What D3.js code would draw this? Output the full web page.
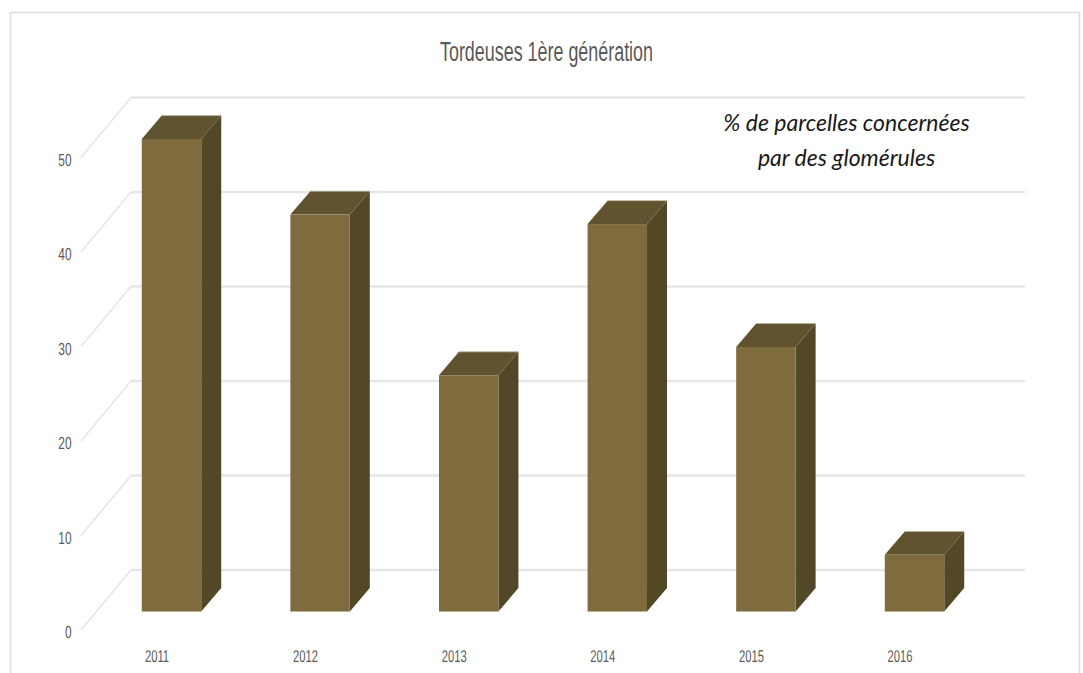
<!DOCTYPE html>
<html>
<head>
<meta charset="utf-8">
<script src="https://d3js.org/d3.v7.min.js"></script>
<style>
  html, body { margin: 0; padding: 0; background: #fff; }
  svg { display: block; }
  .tick text { font-family: "Liberation Sans", sans-serif; fill: #5a5a5a; text-rendering: geometricPrecision; }
</style>
</head>
<body>
<svg id="svg"></svg>
<script>
const years = ['2011', '2012', '2013', '2014', '2015', '2016'];
const values = [50, 42, 25, 41, 28, 6];
const yTicks = [0, 10, 20, 30, 40, 50];
const titleText = 'Tordeuses 1ère génération';
const noteLines = ['% de parcelles concernées', 'par des glomérules'];

const width = 1083;
const height = 673;

// depth of the fake 3d, wall sits up and to the right of the floor front edge
const depthX = 20;
const depthY = 23.4;
const wallX = 50;
const wallY = 60;

const selector = d3.select('#svg')
  .attr('width', width)
  .attr('height', height);

const xScale = d3.scaleBand()
  .domain(years)
  .range([97.2, 988.8])
  .paddingInner(0.6)
  .paddingOuter(0.3);

// y of a value on the front plane of the bars
const yScale = d3.scaleLinear()
  .domain([0, 50])
  .range([611.5, 139]);

// frame, open at the bottom
selector.append('path')
  .attr('d', `M10.5,${height}V12.5H1079.5V${height}`)
  .attr('fill', 'none')
  .attr('stroke', '#dcdcdc')
  .attr('stroke-width', 1.5);

// grid: back wall line + diagonal on the side wall
const axisY = (d) => yScale(d) + 18.5;

const grid = selector.append('g');

grid.selectAll('path')
  .data(yTicks)
  .enter()
  .append('path')
  .attr('d', (d) => `M81,${axisY(d)}L${81 + wallX},${axisY(d) - wallY}`)
  .attr('fill', 'none')
  .attr('stroke', '#e6e6e6')
  .attr('stroke-width', 1.5);

grid.selectAll('line')
  .data(yTicks)
  .enter()
  .append('line')
  .attr('x1', 81 + wallX)
  .attr('x2', 1025)
  .attr('y1', (d) => axisY(d) - wallY)
  .attr('y2', (d) => axisY(d) - wallY)
  .attr('stroke', '#e6e6e6')
  .attr('stroke-width', 2.5);

// bars
const bar = selector.selectAll('g.bar')
  .data(years.map((y, i) => ({ year: y, value: values[i] })))
  .enter()
  .append('g')
  .attr('class', 'bar');

bar.append('path')
  .attr('fill', '#524727')
  .attr('d', (d) => {
    const r = xScale(d.year) + xScale.bandwidth();
    return `M${r},${yScale(d.value)}l${depthX},${-depthY}V${yScale(0) - depthY}l${-depthX},${depthY}Z`;
  });

bar.append('path')
  .attr('fill', '#61532f')
  .attr('d', (d) => {
    const l = xScale(d.year);
    const w = xScale.bandwidth();
    return `M${l},${yScale(d.value)}l${depthX},${-depthY}h${w}l${-depthX},${depthY}Z`;
  });

// thin pale edge along the back of the top face
bar.append('line')
  .attr('x1', (d) => xScale(d.year) + depthX)
  .attr('x2', (d) => xScale(d.year) + xScale.bandwidth() + depthX)
  .attr('y1', (d) => yScale(d.value) - depthY)
  .attr('y2', (d) => yScale(d.value) - depthY)
  .attr('stroke', '#b9b29c')
  .attr('stroke-width', 0.8);

bar.append('rect')
  .attr('fill', '#7f6c3e')
  .attr('x', (d) => xScale(d.year))
  .attr('y', (d) => yScale(d.value))
  .attr('width', xScale.bandwidth())
  .attr('height', (d) => yScale(0) - yScale(d.value));

bar.append('line')
  .attr('x1', (d) => xScale(d.year))
  .attr('x2', (d) => xScale(d.year) + xScale.bandwidth())
  .attr('y1', yScale(0))
  .attr('y2', yScale(0))
  .attr('stroke', '#bdb497')
  .attr('stroke-width', 1);

// axes, the labels are squeezed sideways to get the narrow look
const yAxis = selector.append('g')
  .attr('transform', 'translate(71.5,20)')
  .call(d3.axisLeft(yScale).tickValues(yTicks).tickSize(0).tickPadding(0));

const xAxis = selector.append('g')
  .attr('transform', 'translate(-14.5,650)')
  .call(d3.axisBottom(xScale).tickSize(0).tickPadding(0));

yAxis.select('.domain').remove();
xAxis.select('.domain').remove();

yAxis.selectAll('text')
  .attr('font-size', 17.5)
  .attr('x', 0)
  .attr('dy', '0.35em')
  .attr('transform', 'scale(0.68,1)');

xAxis.selectAll('text')
  .attr('font-size', 17)
  .attr('dy', '0.71em')
  .attr('transform', 'scale(0.66,1)');

selector.append('text')
  .attr('x', 546.5)
  .attr('y', 61)
  .attr('text-anchor', 'middle')
  .attr('font-family', '"Liberation Sans", sans-serif')
  .attr('font-size', 27)
  .attr('fill', '#5a5a5a')
  .attr('lengthAdjust', 'spacingAndGlyphs')
  .attr('textLength', 213)
  .text(titleText);

selector.selectAll('text.note')
  .data(noteLines)
  .enter()
  .append('text')
  .attr('class', 'note')
  .attr('x', 846.5)
  .attr('y', (d, i) => 131 + i * 35)
  .attr('text-anchor', 'middle')
  .attr('font-family', 'Lato, sans-serif')
  .attr('font-style', 'italic')
  .attr('font-size', 23)
  .attr('fill', '#1a1a1a')
  .text((d) => d);
</script>
</body>
</html>
